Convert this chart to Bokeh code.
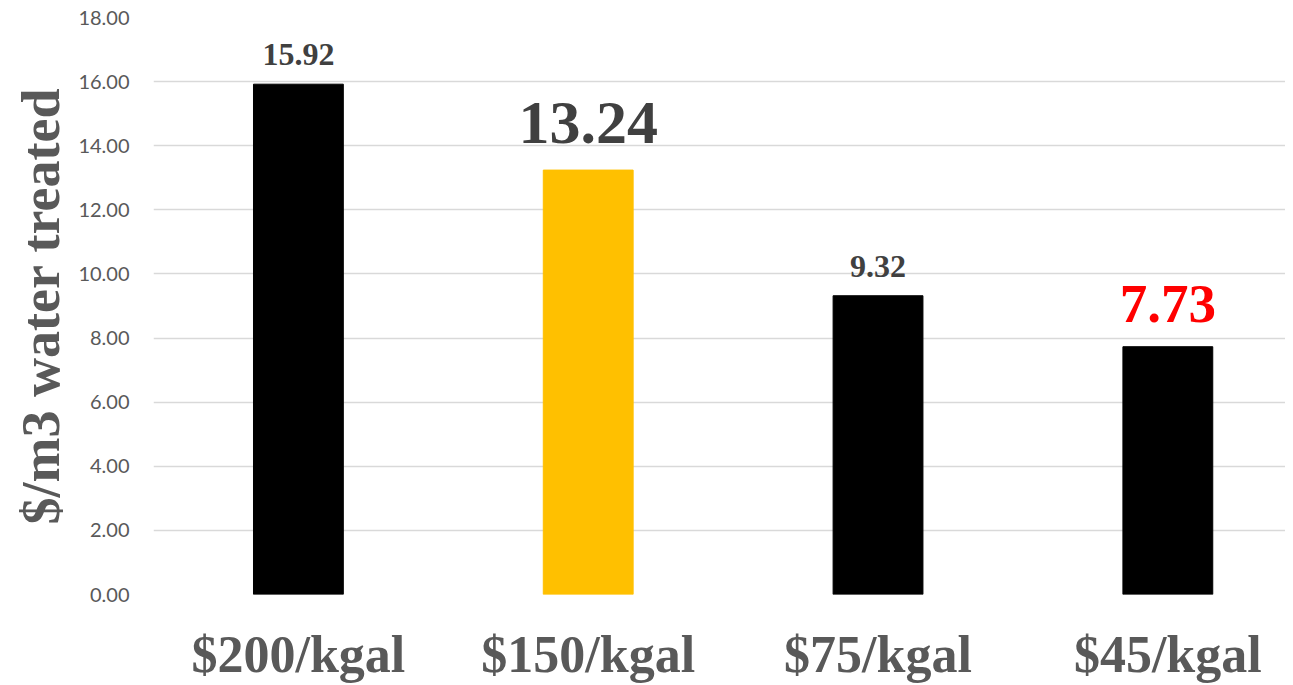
from bokeh.plotting import figure
from bokeh.models import ColumnDataSource, Range1d, FixedTicker
from bokeh.embed import file_html
from bokeh.resources import INLINE
from bokeh.core.properties import value

# ---- data ----
categories = ["$200/kgal", "$150/kgal", "$75/kgal", "$45/kgal"]
costs = [15.92, 13.24, 9.32, 7.73]
y_ticks = [0, 2, 4, 6, 8, 10, 12, 14, 16, 18]

# ---- styles ----
bar_colors = ["#000000", "#FFC000", "#000000", "#000000"]
label_colors = ["#404040", "#404040", "#404040", "#FF0000"]
label_sizes = ["32px", "62px", "32px", "55px"]
label_offsets = [-30, -47, -29, -43]

xs = [i + 0.5 for i in range(len(categories))]
src = ColumnDataSource(dict(
    x=xs, top=costs, color=bar_colors,
    label=["%.2f" % v for v in costs],
    lcolor=label_colors, lsize=label_sizes, loff=label_offsets,
))

p = figure(width=1285, height=685, output_backend="svg", toolbar_location=None,
           x_range=Range1d(0, 3.906), y_range=Range1d(0, 18),
           min_border_left=153, min_border_right=0, min_border_top=17,
           min_border_bottom=80)
p.outline_line_color = None
p.background_fill_color = "white"

p.vbar(x="x", top="top", width=0.31, bottom=0, color="color", source=src)
p.text(x="x", y="top", text="label", text_color="lcolor", text_font_size="lsize",
       y_offset="loff", text_align="center", text_baseline="alphabetic",
       text_font=value("Liberation Serif"), text_font_style="bold", source=src)

# y axis
p.yaxis.ticker = FixedTicker(ticks=y_ticks)
p.yaxis.major_label_overrides = {t: "%.2f" % t for t in y_ticks}
p.yaxis.major_label_text_font = "Lato"
p.yaxis.major_label_text_font_size = "20px"
p.yaxis.major_label_text_color = "#595959"
p.yaxis.major_label_standoff = 18
p.yaxis.axis_line_color = None
p.yaxis.major_tick_line_color = None
p.yaxis.minor_tick_line_color = None
p.yaxis.axis_label = "$/m3 water treated"
p.yaxis.axis_label_text_font = "Liberation Serif"
p.yaxis.axis_label_text_font_style = "bold"
p.yaxis.axis_label_text_font_size = "54px"
p.yaxis.axis_label_text_color = "#595959"
p.yaxis.axis_label_standoff = 4

# x axis
p.xaxis.ticker = FixedTicker(ticks=xs)
p.xaxis.major_label_overrides = {x: c for x, c in zip(xs, categories)}
p.xaxis.major_label_text_font = "Liberation Serif"
p.xaxis.major_label_text_font_style = "bold"
p.xaxis.major_label_text_font_size = "52px"
p.xaxis.major_label_text_color = "#595959"
p.xaxis.major_label_standoff = 25
p.xaxis.axis_line_color = None
p.xaxis.major_tick_line_color = None
p.xaxis.minor_tick_line_color = None

p.xgrid.grid_line_color = None
p.ygrid.grid_line_color = "#D9D9D9"
p.ygrid.grid_line_width = 1.5

open("out.html", "w").write(file_html(p, INLINE))
